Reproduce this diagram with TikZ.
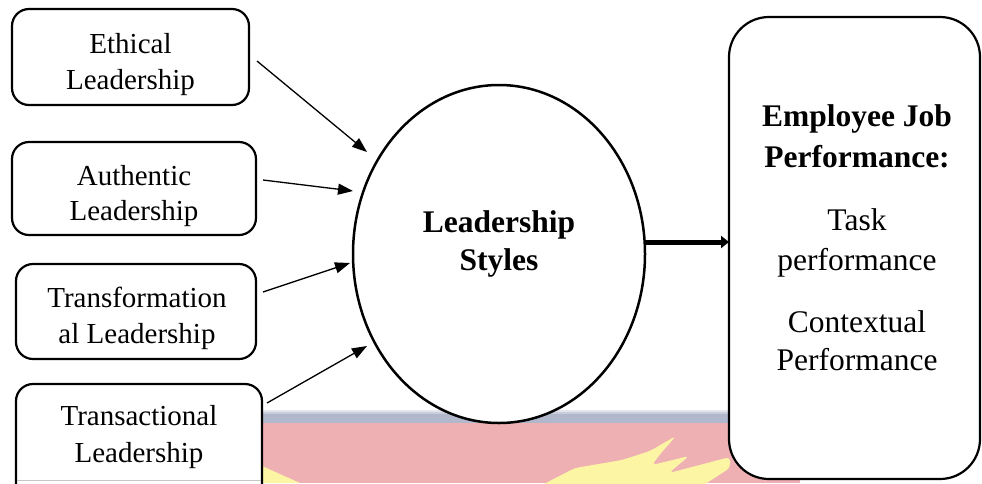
\documentclass[tikz,border=0pt]{standalone}
\usepackage{fontspec}
\setmainfont{Liberation Serif}
\usetikzlibrary{arrows.meta,shapes.geometric}
\definecolor{wmpink}{HTML}{EFB0B4}
\definecolor{wmblue}{HTML}{B2B8CC}
\definecolor{wmyellow}{HTML}{FBF5A4}
\begin{document}
\begin{tikzpicture}[x=1pt,y=-1pt,
  lbox/.style={draw, line width=2.2pt, rounded corners=17pt, fill=white, inner sep=0pt, outer sep=0pt},
  rbox/.style={draw, line width=2.2pt, rounded corners=40pt, fill=white, inner sep=0pt, outer sep=0pt},
  ltxt/.style={anchor=base, font=\fontsize{29}{36}\selectfont, inner sep=0pt},
  rtxt/.style={anchor=base, font=\fontsize{31.5}{40}\selectfont, inner sep=0pt},
  btxt/.style={anchor=base, font=\fontsize{31.5}{40}\selectfont\bfseries, inner sep=0pt},
  arr/.style={-{Triangle[length=15pt,width=11pt]}, line width=1.3pt},
  bigarr/.style={-{Triangle[length=8pt,width=12pt]}, line width=5pt}]
\useasboundingbox (0,0) rectangle (982,483);
\clip (0,0) rectangle (982,483);
% watermark
\fill[wmpink] (20,423) rectangle (800,483);
\fill[wmblue] (20,414) rectangle (800,423);
\fill[wmblue!70] (20,412) rectangle (800,414);
\fill[wmblue!35] (20,410) rectangle (800,412);
\fill[wmyellow, rounded corners=4pt] (540,486) -- (575,468) -- (622,460) -- (650,451) -- (676,436) -- (661,453) -- (652,465) -- (689,456) -- (669,473) -- (730,457) -- (730,468) -- (702,486) -- cycle;
\fill[wmyellow] (262,466) -- (300,483) -- (262,483) -- cycle;
% boxes
\node[lbox, minimum width=237pt, minimum height=96pt] (eth) at (130.5,57) {};
\node[lbox, minimum width=244pt, minimum height=93pt] (aut) at (134,188.5) {};
\node[lbox, minimum width=240pt, minimum height=95pt] (tfm) at (136,311.5) {};
\node[lbox, minimum width=246pt, minimum height=146pt] (tsc) at (139,457) {};
\draw[gray!45, line width=1pt] (17,480) -- (261,480);
\node[rbox, minimum width=251pt, minimum height=462pt] (jp) at (854.5,248) {};
\node[draw, ellipse, line width=2.5pt, fill=white, inner sep=0pt, minimum width=292pt, minimum height=338pt] (ls) at (499,254) {};
% texts
\node[ltxt] (eth1) at (130.5,53) {Ethical};
\node[ltxt] (eth2) at (130.5,89) {Leadership};
\node[ltxt] (aut1) at (134,185) {Authentic};
\node[ltxt] (aut2) at (134,220) {Leadership};
\node[ltxt] (tfm1) at (137,307) {Transformation};
\node[ltxt] (tfm2) at (137,343) {al Leadership};
\node[ltxt] (tsc1) at (139,425) {Transactional};
\node[ltxt] (tsc2) at (139,462) {Leadership};
\node[btxt] (ls1) at (499,232) {Leadership};
\node[btxt] (ls2) at (499,270) {Styles};
\node[btxt] (jp1) at (857,126) {Employee Job};
\node[btxt] (jp2) at (857,167) {Performance:};
\node[rtxt] (jp3) at (857,230) {Task};
\node[rtxt] (jp4) at (857,270) {performance};
\node[rtxt] (jp5) at (857,332) {Contextual};
\node[rtxt] (jp6) at (857,370) {Performance};
% connectors
\coordinate (s1) at (257,61);  \coordinate (t1) at (367,152);
\coordinate (s2) at (263,180); \coordinate (t2) at (353,191);
\coordinate (s3) at (263,292); \coordinate (t3) at (350,263);
\coordinate (s4) at (267,403); \coordinate (t4) at (367,346);
\coordinate (s5) at (645,242); \coordinate (t5) at (729,242);
\draw[arr] (s1) -- (t1);
\draw[arr] (s2) -- (t2);
\draw[arr] (s3) -- (t3);
\draw[arr] (s4) -- (t4);
\draw[bigarr] (s5) -- (t5);
\end{tikzpicture}
\end{document}
